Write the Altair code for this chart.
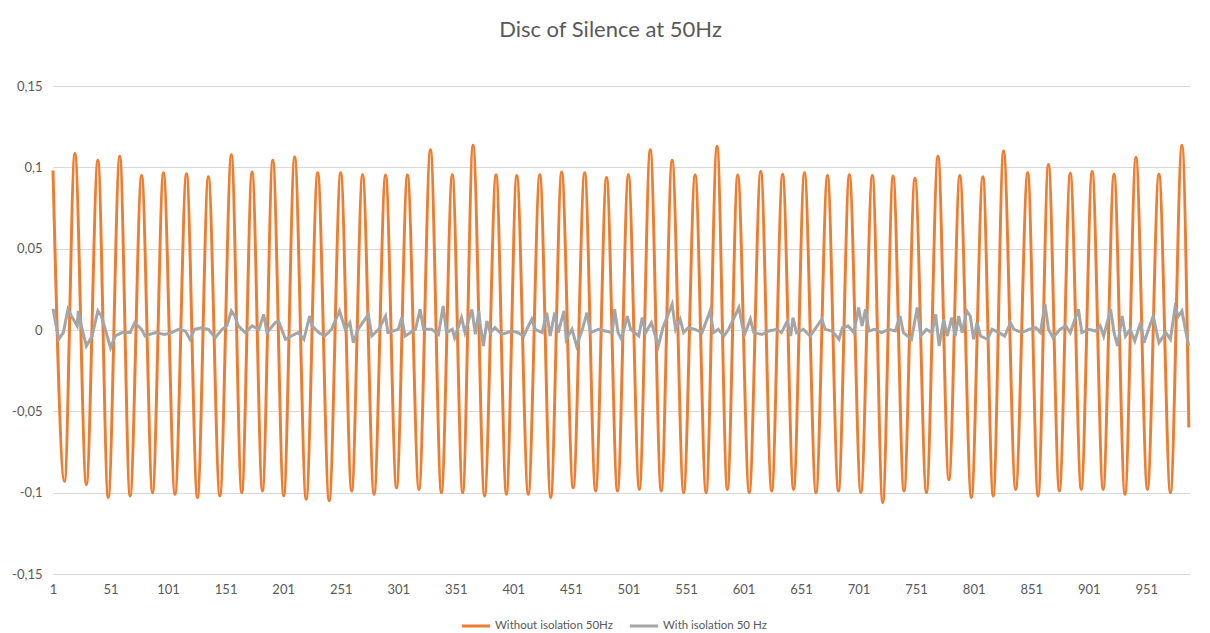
import altair as alt
import pandas as pd

TITLE = "Disc of Silence at 50Hz"
S1 = "Without isolation 50Hz"
S2 = "With isolation 50 Hz"

x_ticks = [1, 51, 101, 151, 201, 251, 301, 351, 401, 451, 501, 551, 601, 651, 701, 751, 801, 851, 901, 951]
y_ticks = [-0.15, -0.1, -0.05, 0, 0.05, 0.1, 0.15]

# Orange series: peaks and troughs (sample index, value)
peak_samples = [1, 20, 40, 59, 78, 97, 117, 136, 156, 174, 192, 211, 231, 251, 270, 290, 309, 329,
                348, 366, 386, 404, 424, 443, 463, 482, 501, 520, 539, 559, 578, 596, 616, 635, 654,
                674, 693, 713, 731, 750, 770, 789, 809, 827, 848, 866, 885, 904, 923, 942, 962, 982]
peak_values = [0.098, 0.1085, 0.1043, 0.1068, 0.095, 0.0967, 0.096, 0.0942, 0.1077, 0.0972,
               0.1043, 0.1063, 0.0967, 0.0967, 0.0955, 0.0953, 0.0953, 0.1108, 0.0955, 0.1135,
               0.0955, 0.095, 0.0955, 0.0972, 0.0967, 0.0938, 0.0955, 0.1108, 0.1043, 0.0953,
               0.113, 0.0953, 0.0975, 0.0958, 0.0967, 0.095, 0.0955, 0.095, 0.0947, 0.0933,
               0.1068, 0.095, 0.0942, 0.11, 0.0967, 0.1017, 0.0963, 0.0975, 0.0958, 0.106,
               0.0958, 0.1135]
trough_samples = [11, 30, 49, 68, 87.5, 107, 126.5, 146, 165, 183, 201.5, 221, 241, 260.5, 280,
                  299.5, 319, 338.5, 357, 376, 395, 414, 433.5, 453, 472.5, 491.5, 510.5, 529.5,
                  549, 568.5, 587, 606, 625.5, 644.5, 664, 683.5, 703, 722, 740.5, 760, 779.5,
                  799, 818, 837.5, 857, 875.5, 894.5, 913.5, 932.5, 952, 972]
trough_values = [-0.093, -0.095, -0.103, -0.102, -0.100, -0.101, -0.103, -0.102, -0.100, -0.099,
                 -0.102, -0.104, -0.105, -0.099, -0.101, -0.097, -0.098, -0.100, -0.100, -0.102,
                 -0.101, -0.101, -0.103, -0.097, -0.099, -0.099, -0.098, -0.099, -0.100, -0.100,
                 -0.098, -0.100, -0.099, -0.098, -0.100, -0.099, -0.100, -0.106, -0.099, -0.100,
                 -0.092, -0.103, -0.102, -0.098, -0.102, -0.099, -0.098, -0.098, -0.101, -0.098,
                 -0.100]
tail_samples = [988]
tail_values = [-0.06]

# Grey series
grey_samples = [1, 6, 10, 14, 17, 22, 23, 26, 30, 35, 40, 43, 46, 51, 55, 61, 68, 72, 78, 81, 90,
                98, 104, 110, 116, 120, 124, 130, 136, 142, 148, 152, 156, 159, 162, 168, 174, 180,
                184, 187, 194, 197, 203, 208, 214, 219, 224, 226, 232, 237, 243, 250, 255, 259,
                262, 266, 275, 278, 284, 290, 292, 301, 304, 307, 316, 320, 323,
                330, 336, 340, 343, 348, 350, 356, 359, 365, 368, 371, 372, 375, 378, 381, 385,
                391, 400, 405, 410, 417, 420, 426, 430, 433, 437, 440, 445, 447, 452, 456, 461,
                465, 468, 475, 481, 487, 489, 492, 495, 500, 503, 510, 513, 516, 521, 527, 531,
                539, 542, 546, 549, 553, 559, 565, 572, 575, 579, 584, 588, 597, 600, 602, 607,
                610, 617, 623, 630, 634, 639, 642, 644, 647, 653,
                659, 663, 669, 672, 678, 684, 687, 692, 697, 701, 704, 707, 710, 715, 721, 727,
                733, 737, 740, 747, 752, 755, 760, 765, 768, 771, 775, 778, 782, 785, 788, 791,
                795, 798, 801, 804, 807, 813, 817, 823, 828, 833, 836, 843, 849, 855, 859, 863,
                866, 870, 876, 881, 885, 892, 895, 901, 907, 911, 914, 920, 923, 926, 930, 933,
                937, 941, 946, 949, 953, 957, 962, 968, 972, 976, 979, 982, 985, 988]
grey_values = [0.013, -0.0057, -0.0016, 0.0127, 0.0086, 0.0025, 0.0117, 0.0014, -0.0098, -0.0037,
               0.0117, 0.0086, 0.0014, -0.0109, -0.0037, -0.0016, -0.0016, 0.0045, 0.0004, -0.0037,
               -0.0016, -0.0027, -0.0016, 0.0004, -0.0006, -0.0057, 0.0004, 0.0014, 0.0004, -0.0047,
               0.0004, 0.0025, 0.0117, 0.0086, 0.0025, -0.0016, 0.0025, 0.0004, 0.0096, -0.0016,
               0.0045, 0.0055, -0.0057, -0.0037, -0.0016, -0.0057, 0.0086, 0.0025, -0.0016, -0.0037,
               0.0004, 0.0117, 0.0004, 0.0045, -0.0078, 0.0004, 0.0096, -0.0037, 0.0004, 0.0086,
               -0.0016, 0.0004, 0.0076, -0.0037, 0.0004, 0.0127, 0.0004,
               0.0004, -0.0027, 0.0148, -0.0016, 0.0004, -0.0047, 0.0076, -0.0016, 0.0127, -0.0027,
               0.0117, 0.0045, -0.0098, 0.0055, -0.0016, 0.0014, -0.0027, -0.0006, -0.0016, -0.0037,
               0.0066, 0.0004, -0.0016, 0.0107, -0.0037, 0.0107, -0.0016, 0.0117, -0.0057, 0.0004,
               -0.0098, 0.0004, 0.0107, -0.0016, 0.0004, -0.0006, -0.0016, 0.0127, -0.0016, -0.0057,
               0.0086, 0.0004, -0.0037, 0.0076, -0.0016, 0.0045, -0.0098, 0.0014, 0.0158, 0.0004,
               0.0066, -0.0016, 0.0014, 0.0004, -0.0016, 0.0117, -0.0016, 0.0004, -0.0037, 0.0004,
               0.0138, 0.0025, -0.0027, 0.0066, -0.0016, -0.0027, -0.0006, 0.0004, -0.0016, 0.0055,
               -0.0037, 0.0076, -0.0016, 0.0004,
               -0.0037, 0.0004, 0.0066, 0.0004, -0.0006, -0.0057, 0.0014, 0.0025, -0.0016, 0.0138,
               0.0025, 0.0127, -0.0006, 0.0004, -0.0016, 0.0004, -0.0006, 0.0086, -0.0016, -0.0057,
               0.0138, -0.0037, 0.0004, -0.0016, 0.0096, -0.0098, 0.0066, -0.0037, 0.0076, -0.0037,
               0.0086, -0.0016, 0.0117, 0.0086, -0.0057, 0.0045, -0.0037, -0.0057, 0.0004, -0.0016,
               -0.0037, 0.0045, 0.0004, -0.0016, 0.0004, 0.0014, -0.0016, 0.0158, 0.0004, -0.0047,
               0.0004, 0.0025, -0.0016, 0.0127, -0.0016, 0.0004, -0.0006, 0.0025, -0.0037, 0.0127,
               -0.0016, -0.0098, 0.0086, -0.0037, 0.0004, -0.0068, 0.0045, -0.0078, 0.0004, 0.0086,
               -0.0078, -0.0016, -0.0057, 0.0138, 0.0086, 0.0117, 0.0004, -0.0098]

o_pts = sorted(zip(peak_samples + trough_samples + tail_samples,
                   peak_values + trough_values + tail_values))
orange = pd.DataFrame({"sample": [p[0] for p in o_pts], "value": [p[1] for p in o_pts], "series": S1})
grey = pd.DataFrame({"sample": grey_samples, "value": grey_values, "series": S2})

FONT = "Lato"
TXT = "#595959"

color = alt.Color(
    "series:N",
    scale=alt.Scale(domain=[S1, S2], range=["#ED7D31", "#A5A5A5"]),
    legend=alt.Legend(
        title=None, orient="none", legendX=407, legendY=524, direction="horizontal",
        symbolType="stroke", symbolStrokeWidth=3, symbolSize=800,
        labelFont=FONT, labelFontSize=11.5, labelColor=TXT, labelOffset=3, columnPadding=10,
    ),
)
x = alt.X(
    "sample:Q",
    scale=alt.Scale(domain=[1, 989], nice=False, zero=False),
    axis=alt.Axis(values=x_ticks, title=None, grid=False, domain=False, ticks=False,
                  labelFont=FONT, labelFontSize=13, labelColor=TXT, labelPadding=9,
                  labelFlush=False, labelOverlap=False),
)
y = alt.Y(
    "value:Q",
    scale=alt.Scale(domain=[-0.15, 0.15], nice=False),
    axis=alt.Axis(values=y_ticks, title=None, domain=False, ticks=False,
                  labelExpr="replace(toString(datum.value), '.', ',')",
                  labelFont=FONT, labelFontSize=13, labelColor=TXT, labelPadding=11,
                  gridColor="#D9D9D9", gridWidth=1),
)

o_line = alt.Chart(orange).mark_line(strokeWidth=3, interpolate="monotone").encode(x=x, y=y, color=color)
g_line = alt.Chart(grey).mark_line(strokeWidth=3).encode(x=x, y=y, color=color)

chart = alt.layer(o_line, g_line).properties(
    width=1137, height=488,
    title=alt.TitleParams(TITLE, font=FONT, fontSize=22, color=TXT, fontWeight="normal",
                          offset=38, dx=-11),
    padding={"left": 45, "top": 78, "right": 12, "bottom": 58},
    autosize=alt.AutoSizeParams(type="none"),
).configure_view(stroke=None)

chart.save("out.html", embed_options={"renderer": "svg", "actions": False})
